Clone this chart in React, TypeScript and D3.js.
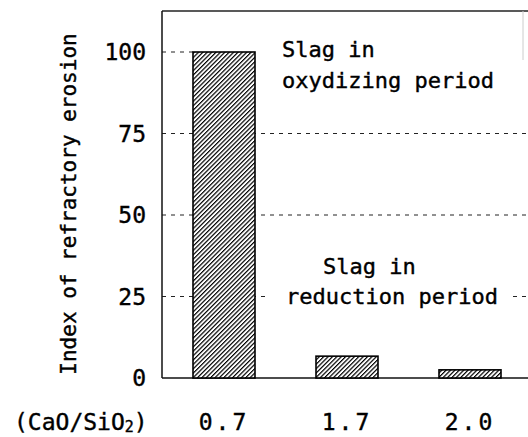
import React from "react";
import * as d3 from "d3";

const categories = ["0.7", "1.7", "2.0"];
const erosionIndex = [100, 6.7, 2.5];
const yTicks = [0, 25, 50, 75, 100];
const gridTicks = [25, 50, 75];

const W = 528;
const H = 437;
const FONT = "'DejaVu Sans Mono', 'Liberation Mono', monospace";
const TS = { stroke: "#000", strokeWidth: 0.4 };

export default function App() {
  const y = d3.scaleLinear().domain([0, 100]).range([378, 52]);
  const x = d3.scalePoint<string>().domain(categories).range([224, 470]);
  const barW = 62;
  const left = 162;
  const right = 528;
  const top = 11;
  const bottom = y(0);

  return (
    <svg
      width={W}
      height={H}
      style={{ position: "absolute", left: 0, top: 0, background: "#fff" }}
      xmlns="http://www.w3.org/2000/svg"
    >
      <defs>
        <pattern id="hatch" patternUnits="userSpaceOnUse" width="3.1" height="3.1" patternTransform="rotate(45)">
          <rect width="3.1" height="3.1" fill="#fff" />
          <line x1="0.6" y1="0" x2="0.6" y2="3.1" stroke="#000" strokeWidth="1.2" />
        </pattern>
      </defs>
      <rect x={0} y={0} width={W} height={H} fill="#fff" />

      {/* gridlines */}
      {gridTicks.map((t) => (
        <line
          key={t}
          x1={left}
          x2={right}
          y1={y(t)}
          y2={y(t)}
          stroke="#222"
          strokeWidth={1}
          strokeDasharray="4,5"
        />
      ))}
      <line x1={left} x2={x(categories[0])! - barW / 2} y1={y(100)} y2={y(100)} stroke="#222" strokeWidth={1} strokeDasharray="4,5" />

      {/* frame */}
      <line x1={left} x2={right} y1={top} y2={top} stroke="#222" strokeWidth={1.5} />
      <line x1={523} x2={523} y1={top} y2={60} stroke="#ccc" strokeWidth={1} />
      <line x1={left} x2={left} y1={top} y2={bottom} stroke="#111" strokeWidth={1.5} />
      <line x1={left} x2={right} y1={bottom} y2={bottom} stroke="#111" strokeWidth={1.5} />

      {/* bars */}
      {categories.map((c, i) => (
        <rect
          key={c}
          x={x(c)! - barW / 2}
          y={y(erosionIndex[i])}
          width={barW}
          height={bottom - y(erosionIndex[i])}
          fill="url(#hatch)"
          stroke="#000"
          strokeWidth={1.6}
        />
      ))}

      {/* y tick labels */}
      {yTicks.map((t) => (
        <text
          key={t}
          x={146}
          y={y(t)}
          dy="0.36em"
          textAnchor="end"
          fontFamily={FONT}
          fontSize={23}
          fill="#000"
          {...TS}
        >
          {t}
        </text>
      ))}

      {/* y axis title */}
      <text
        transform={`translate(76,204) rotate(-90)`}
        textAnchor="middle"
        fontFamily={FONT}
        fontSize={21}
        fill="#000"
        {...TS}
      >
        Index of refractory erosion
      </text>

      {/* x labels */}
      {categories.map((c) => (
        <text
          key={c}
          x={x(c)!}
          y={430}
          textAnchor="middle"
          fontFamily={FONT}
          fontSize={23}
          letterSpacing={3}
          fill="#000"
          {...TS}
        >
          {c}
        </text>
      ))}
      <text x={14} y={430} fontFamily={FONT} fontSize={23} fill="#000" {...TS}>
        (CaO/SiO<tspan fontSize={15} dy={2}>2</tspan>
        <tspan dy={-2}>)</tspan>
      </text>

      {/* annotations */}
      <text x={282} y={57} fontFamily={FONT} fontSize={22} fill="#000" {...TS}>
        Slag in
      </text>
      <text x={282} y={88} fontFamily={FONT} fontSize={22} fill="#000" {...TS}>
        oxydizing period
      </text>
      <rect x={268} y={252} width={244} height={60} fill="#fff" />
      <text x={323} y={274} fontFamily={FONT} fontSize={22} fill="#000" {...TS}>
        Slag in
      </text>
      <text x={286} y={304} fontFamily={FONT} fontSize={22} fill="#000" {...TS}>
        reduction period
      </text>
    </svg>
  );
}
